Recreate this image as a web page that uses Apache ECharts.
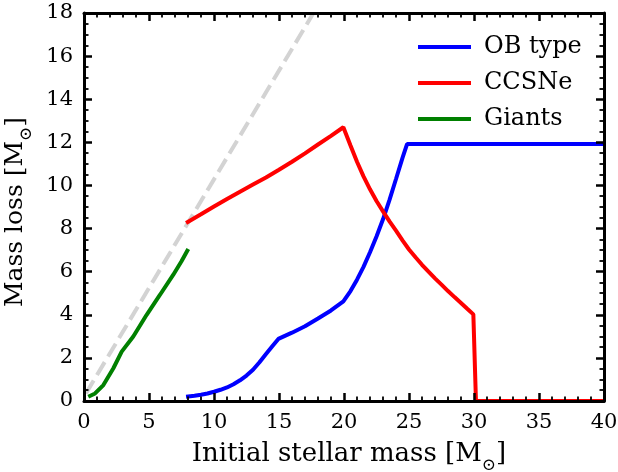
<!DOCTYPE html>
<html>
<head>
<meta charset="utf-8">
<script src="https://cdn.jsdelivr.net/npm/echarts@6/dist/echarts.min.js"></script>
<style>
html,body{margin:0;padding:0;background:#fff;}
#chart{width:618px;height:472px;}
</style>
</head>
<body>
<div id="chart"></div>
<script>
// ---- data ----
const xRange = [0, 40];
const yRange = [0, 18];
const xInterval = 5;
const yInterval = 2;
const seriesNames = ['OB type', 'CCSNe', 'Giants'];

const refMass = [0.15, 17.65];
const refLoss = [0.35, 18.0];

const obMass = [7.85, 8.5, 9, 9.5, 10, 10.5, 11, 11.5, 12, 12.5, 13, 13.5, 14, 14.5, 14.95,
                16, 17, 18, 19, 19.95, 20.5, 21, 21.5, 22, 22.5, 23, 23.5, 24, 24.5, 24.85, 40];
const obLoss = [0.2, 0.24, 0.29, 0.35, 0.43, 0.52, 0.63, 0.78, 0.96, 1.18, 1.45, 1.8, 2.18, 2.55, 2.88,
                3.17, 3.47, 3.83, 4.2, 4.62, 5.1, 5.63, 6.22, 6.9, 7.63, 8.43, 9.33, 10.3, 11.28, 11.92, 11.92];

const snMass = [7.85, 9, 10, 11, 12, 13, 14, 15, 16, 17, 18, 19, 19.95,
                20.5, 21, 21.5, 22, 22.5, 23, 23.5, 24, 24.5, 25, 25.5, 26, 26.5, 27, 27.5, 28, 28.5, 29, 29.5, 29.95,
                30.15, 40];
const snLoss = [8.26, 8.66, 9.02, 9.37, 9.71, 10.04, 10.37, 10.73, 11.1, 11.49, 11.9, 12.3, 12.7,
                11.85, 11.1, 10.42, 9.82, 9.28, 8.8, 8.33, 7.9, 7.45, 7.03, 6.67, 6.32, 6.0, 5.69, 5.4, 5.1, 4.82, 4.55, 4.27, 4.02,
                0, 0];

const gMass = [0.33, 0.85, 1.49, 2.26, 2.9, 3.79, 4.82, 5.85, 6.87, 7.5, 8.02];
const gLoss = [0.2, 0.35, 0.74, 1.52, 2.29, 2.99, 4.0, 4.93, 5.86, 6.48, 7.05];

const colors = {ob: '#0000ff', sn: '#ff0000', g: '#008000', ref: '#d3d3d3'};
const FONT = 'DejaVu Serif';

function pairs(xs, ys) { return xs.map((x, i) => [x, ys[i]]); }

const tickBase = {
  axisLine: {show: true, onZero: false, lineStyle: {color: '#000', width: 3}},
  axisTick: {show: true, inside: true, length: 8, lineStyle: {color: '#000', width: 2.5}},
  minorTick: {show: true, length: 4.5, lineStyle: {color: '#000', width: 1.8}},
  splitLine: {show: false},
  z: 10
};
function nameStyle(size, pad) {
  return {color: '#000', fontFamily: FONT, fontSize: size, lineHeight: 30, padding: pad,
    rich: {s: {fontFamily: FONT, fontSize: 17, color: '#000', lineHeight: 20, verticalAlign: 'bottom', padding: [0, 0, -5, 0]}}};
}

function xAx(pos, labels) {
  return Object.assign({}, JSON.parse(JSON.stringify(tickBase)), {
    type: 'value', position: pos, min: xRange[0], max: xRange[1], interval: xInterval,
    minorTick: Object.assign({}, tickBase.minorTick, {splitNumber: 5}),
    axisLabel: {show: labels, color: '#000', fontFamily: FONT, fontSize: 21, margin: 11},
    name: labels ? 'Initial stellar mass [M{s|⊙}]' : '',
    nameLocation: 'middle', nameGap: 38,
    nameTextStyle: nameStyle(26, [0, 0, 0, 10])
  });
}
function yAx(pos, labels) {
  return Object.assign({}, JSON.parse(JSON.stringify(tickBase)), {
    type: 'value', position: pos, min: yRange[0], max: yRange[1], interval: yInterval,
    minorTick: Object.assign({}, tickBase.minorTick, {splitNumber: 4}),
    axisLabel: {show: labels, color: '#000', fontFamily: FONT, fontSize: 21, margin: 11},
    name: labels ? 'Mass loss [M{s|⊙}]' : '',
    nameLocation: 'middle', nameGap: 48, nameRotate: 90,
    nameTextStyle: nameStyle(25, [0, 10, 0, 0])
  });
}

const chart = echarts.init(document.getElementById('chart'), null, {renderer: 'canvas'});
chart.setOption({
  animation: false,
  backgroundColor: '#fff',
  grid: {left: 84, right: 14, top: 13, bottom: 71, containLabel: false, outerBoundsMode: 'none'},
  xAxis: [xAx('bottom', true), xAx('top', false)],
  yAxis: [yAx('left', true), yAx('right', false)],
  legend: {
    data: seriesNames,
    orient: 'vertical',
    left: 413, top: 30,
    icon: 'rect',
    itemWidth: 53, itemHeight: 4,
    itemGap: 12,
    textStyle: {fontFamily: FONT, fontSize: 24, color: '#000', padding: [0, 0, 0, 8]}
  },
  series: [
    {type: 'line', data: pairs(refMass, refLoss), symbol: 'none', silent: true,
     lineStyle: {color: colors.ref, width: 4, type: [15, 6.5]}, z: 1},
    {name: seriesNames[0], type: 'line', data: pairs(obMass, obLoss), symbol: 'none', color: colors.ob,
     lineStyle: {color: colors.ob, width: 4}, z: 2},
    {name: seriesNames[1], type: 'line', data: pairs(snMass, snLoss), symbol: 'none', color: colors.sn,
     lineStyle: {color: colors.sn, width: 4}, z: 3},
    {name: seriesNames[2], type: 'line', data: pairs(gMass, gLoss), symbol: 'none', color: colors.g,
     lineStyle: {color: colors.g, width: 4}, z: 4}
  ]
});
</script>
</body>
</html>
